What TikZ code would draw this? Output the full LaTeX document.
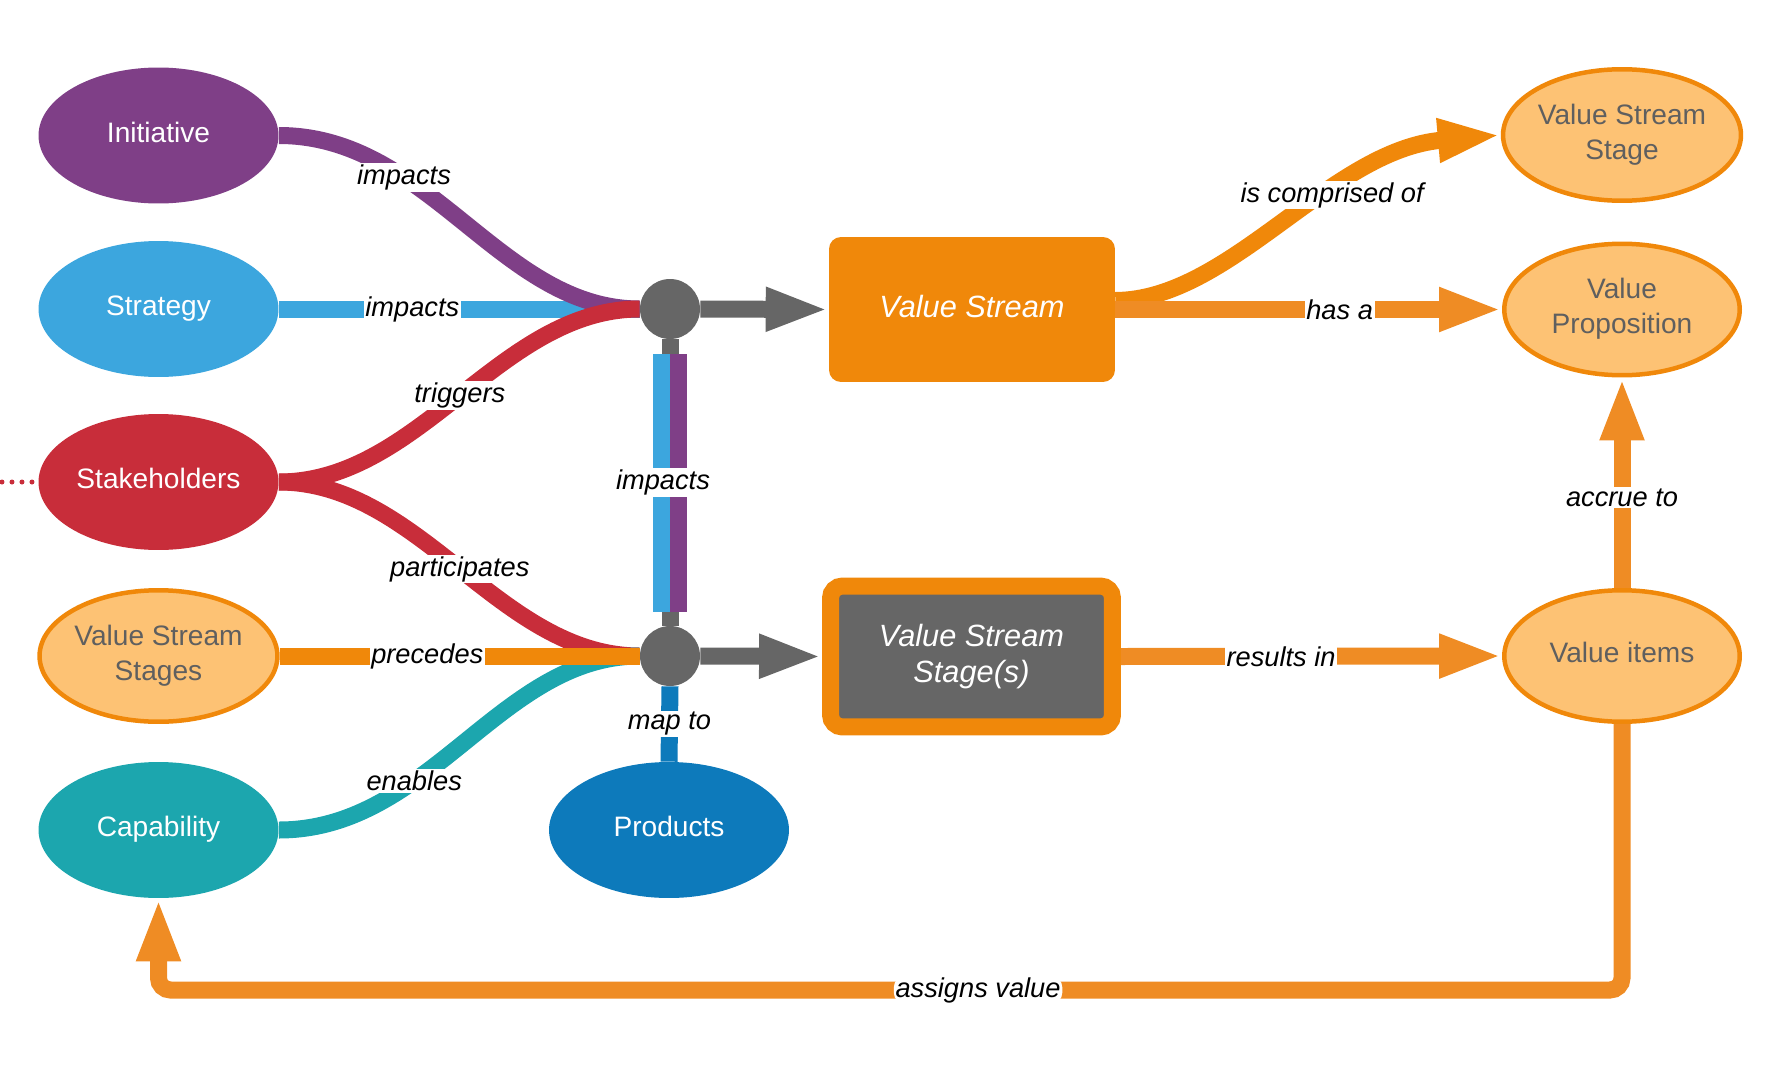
\documentclass[tikz,border=0pt]{standalone}
\usepackage{fontspec}
\setmainfont{Liberation Sans}
\usetikzlibrary{arrows.meta, calc, shapes.geometric}
\definecolor{initpurple}{HTML}{7F3F87}
\definecolor{stratblue}{HTML}{3CA6DE}
\definecolor{stakered}{HTML}{C82D3A}
\definecolor{vsorange}{HTML}{F0880A}
\definecolor{linkorange}{HTML}{EF8C24}
\definecolor{vslight}{HTML}{FDC274}
\definecolor{capteal}{HTML}{1CA6AE}
\definecolor{prodblue}{HTML}{0D7ABB}
\definecolor{hubgray}{HTML}{666666}
\definecolor{softtext}{HTML}{5F5F5F}
\tikzset{concept/.style = {ellipse, minimum width=4.8cm, minimum height=2.72cm, inner sep=0pt, text=white, align=center, text depth=0.4em, font=\fontsize{16}{20}\selectfont}}
\tikzset{soft/.style = {concept, fill=vslight, draw=vsorange, line width=0.09cm, minimum width=4.71cm, minimum height=2.63cm, text=softtext}}
\tikzset{hub/.style = {circle, fill=hubgray, minimum size=1.2cm, inner sep=0pt}}
\tikzset{stream/.style = {rectangle, rounded corners=0.24cm, fill=vsorange, minimum width=5.72cm, minimum height=2.9cm, text=white, text depth=0.4em, font=\fontsize{17.5}{21}\selectfont\itshape}}
\tikzset{stage/.style = {rectangle, rounded corners=0.24cm, fill=hubgray, draw=vsorange, line width=0.34cm, minimum width=5.64cm, minimum height=2.82cm, text=white, align=center, font=\fontsize{17.5}{21}\selectfont\itshape}}
\tikzset{link/.style = {line width=0.34cm}}
\tikzset{headed/.style = {-{Triangle[length=1.26cm, width=0.8cm]}}}
\tikzset{verb/.style = {fill=white, text=black, inner sep=1pt, font=\fontsize{15.5}{18}\selectfont\itshape}}

\begin{document}
\begin{tikzpicture}[x=0.02cm, y=-0.02cm]
\useasboundingbox (0,0) rectangle (1771,1078);
\node[concept, fill=initpurple] (ini) at (158.5,135.5) {Initiative};
\node[concept, fill=stratblue] (str) at (158.5,309) {Strategy};
\node[concept, fill=stakered] (stk) at (158.5,482) {Stakeholders};
\node[soft] (vssl) at (158.5,656) {Value Stream\\Stages};
\node[concept, fill=capteal] (cap) at (158.5,830) {Capability};
\node[concept, fill=prodblue] (prd) at (669,830) {Products};
\node[hub] (ja) at (670,309) {};
\node[hub] (jb) at (670,656) {};
\node[stream] (vs) at (972,309.5) {Value Stream};
\node[stage] (vss) at (971.5,656.5) {Value Stream\\Stage(s)};
\node[soft] (vsr) at (1622,135) {Value Stream\\Stage};
\node[soft] (vp) at (1622,309.5) {Value\\Proposition};
\node[soft] (vi) at (1622,656) {Value items};
\coordinate (edge) at (2,482);
\coordinate (floor) at (0,990);

\draw[stakered, line width=0.1cm, line cap=round, dash pattern=on 0pt off 0.2cm] (edge) -- (stk.west);
\draw[link, stratblue] (str.east) -- node[verb, pos=0.37]{impacts} (ja.west);
\draw[link, initpurple] (ini.east) .. controls (430,135.5) and (500,309) .. node[verb, pos=0.32]{impacts} (ja.west);
\draw[link, stakered] (stk.east) .. controls (420,482) and (500,309) .. node[verb]{triggers} (ja.west);
\draw[link, stakered] (stk.east) .. controls (420,482) and (500,656) .. node[verb]{participates} (jb.west);
\draw[link, capteal] (cap.east) .. controls (430,830) and (500,656) .. node[verb, pos=0.35]{enables} (jb.west);
\draw[link, vsorange] (vssl.east) -- node[verb, pos=0.41]{precedes} (jb.west);

\draw[link, hubgray] (ja) -- (jb);
\draw[link, stratblue] ($(ja)+(-8.5,45)$) -- ($(jb)+(-8.5,-44)$);
\draw[link, initpurple] ($(ja)+(8.5,45)$) -- ($(jb)+(8.5,-44)$);
\node[verb] (jlabel) at ($(ja)!0.5!(jb)+(-7,0)$) {impacts};
\draw[link, hubgray, headed] (ja.east) -- (vs.west);
\draw[link, hubgray, headed] (jb.east) -- (vss.west);
\draw[link, prodblue] (jb.south) -- node[verb]{map to} (prd.north);

\draw[link, vsorange, headed] ([yshift=0.18cm]vs.east) .. controls (1230,300) and (1330,150) .. node[verb, pos=0.62]{is comprised of} (vsr.west);
\draw[link, linkorange, headed] (vs.east) -- node[verb, pos=0.58]{has a} (vp.west);
\draw[link, linkorange, headed] (vss.east) -- node[verb, pos=0.42]{results in} (vi.west);
\draw[link, linkorange, headed] (vi.north) -- node[verb, pos=0.43]{accrue to} (vp.south);
\draw[link, linkorange, headed, rounded corners=0.24cm] (vi.south) -- (vi.south |- floor) -- node[verb, pos=0.44]{assigns value} (cap.south |- floor) -- (cap.south);
\end{tikzpicture}
\end{document}
